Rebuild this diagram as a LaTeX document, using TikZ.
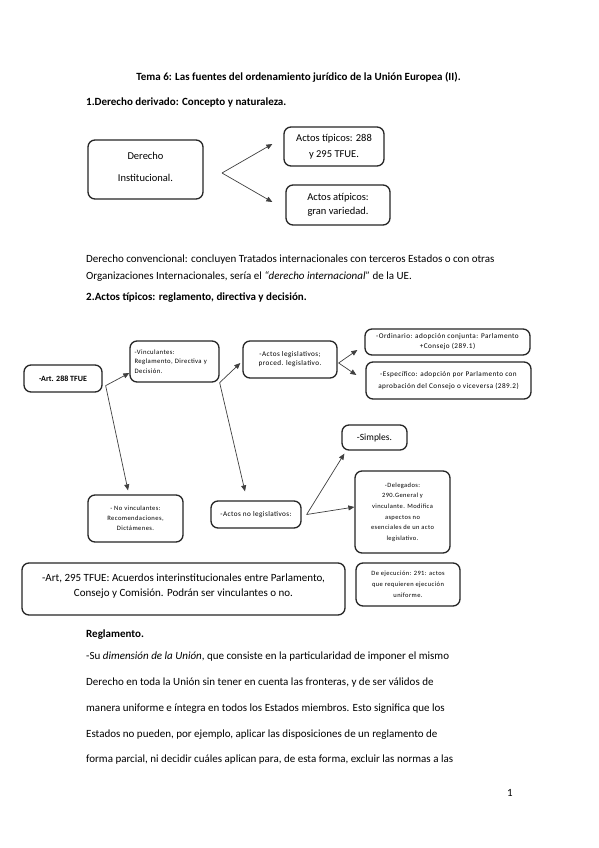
\documentclass[tikz,border=0pt]{standalone}
\usepackage{fontspec}
\setmainfont{Carlito}
\newfontfamily\tf[LetterSpace=6.0]{Carlito}
\usetikzlibrary{arrows.meta}
\newcommand{\fsz}[2]{\fontsize{#1}{#2}\selectfont}
\newcommand{\tfs}[2]{\tf\fontsize{#1}{#2}\selectfont}
\tikzset{
  box/.style={draw=black!85, line width=1.3pt, rounded corners=7pt, inner sep=0pt, align=center},
  conn/.style={draw=black!75, line width=0.7pt},
  arr/.style={conn, -{Triangle[length=6pt,width=5pt]}},
  txt/.style={anchor=base west, inner sep=0pt, font=\fsz{11}{13}},
  hd/.style={anchor=base west, inner sep=0pt, font=\fsz{11}{13}\bfseries},
}
\begin{document}
\begin{tikzpicture}[x=1pt,y=-1pt]
\useasboundingbox[fill=white] (0,0) rectangle (599,848);

% headings and text
\node[anchor=base, inner sep=0pt, font=\fsz{11}{13}\bfseries] (title) at (298.5,80.5) {Tema 6: Las fuentes del ordenamiento jurídico de la Unión Europea (II).};
\node[hd] (h1) at (86,105.5) {1.Derecho derivado: Concepto y naturaleza.};
\node[txt] (p1) at (86,262.5) {Derecho convencional: concluyen Tratados internacionales con terceros Estados o con otras};
\node[txt] (p2) at (86,279.5) {Organizaciones Internacionales, sería el \textit{“derecho internacional”} de la UE.};
\node[hd] (h2) at (86,300.5) {2.Actos típicos: reglamento, directiva y decisión.};
\node[hd] (h3) at (86,637.5) {Reglamento.};
\node[txt] (r1) at (86,659.5) {-Su \textit{dimensión de la Unión}, que consiste en la particularidad de imponer el mismo};
\node[txt] (r2) at (86,685.5) {Derecho en toda la Unión sin tener en cuenta las fronteras, y de ser válidos de};
\node[txt] (r3) at (86,711) {manera uniforme e íntegra en todos los Estados miembros. Esto significa que los};
\node[txt] (r4) at (86,737) {Estados no pueden, por ejemplo, aplicar las disposiciones de un reglamento de};
\node[txt] (r5) at (86,762.5) {forma parcial, ni decidir cuáles aplican para, de esta forma, excluir las normas a las};
\node[txt] (pg) at (507,796) {1};

% first diagram
\node[box, minimum width=115pt, minimum height=59pt] (der) at (145.5,169.5) {};
\node[inner sep=0pt, align=center, font=\fsz{10.5}{22}] (dert) at (145.5,167) {Derecho\\Institucional.};
\node[box, minimum width=100pt, minimum height=39pt, font=\fsz{10.5}{16}] (tip) at (334,146.5) {Actos típicos: 288\\y 295 TFUE.};
\node[box, minimum width=104pt, minimum height=40pt, font=\fsz{10.5}{14}] (atip) at (338,205) {Actos atípicos:\\gran variedad.};
\coordinate (f1) at (222,173);
\draw[arr] (f1) -- ([xshift=-11pt,yshift=2.5pt]tip.west);
\draw[arr] (f1) -- ([xshift=-13pt,yshift=3pt]atip.west);

% second diagram
\node[box, minimum width=78pt, minimum height=27pt, font=\fsz{8}{9}\bfseries] (art288) at (63,378.5) {-Art. 288 TFUE};
\node[box, minimum width=89pt, minimum height=41pt, font=\tfs{6.7}{9.5}, align=left, text width=80pt] (vinc) at (174.5,361.5) {-Vinculantes:\\Reglamento, Directiva y\\Decisión.};
\node[box, minimum width=94pt, minimum height=37pt, font=\tfs{7.2}{9}] (leg) at (290,359.5) {-Actos legislativos;\\proced. legislativo.};
\node[box, minimum width=165pt, minimum height=26pt, font=\tfs{7.2}{10}] (ord) at (447.5,342) {-Ordinario: adopción conjunta: Parlamento\\+Consejo (289.1)};
\node[box, minimum width=165pt, minimum height=37pt, font=\tfs{7.2}{11.5}] (esp) at (448.5,380.5) {-Específico: adopción por Parlamento con\\aprobación del Consejo o viceversa (289.2)};
\node[box, minimum width=65pt, minimum height=25pt, font=\fsz{9.5}{11}] (simp) at (374.5,437.5) {-Simples.};
\node[box, minimum width=95pt, minimum height=47pt, font=\tfs{6.6}{10}] (nov) at (135.5,518.5) {- No vinculantes:\\Recomendaciones,\\Dictámenes.};
\node[box, minimum width=90pt, minimum height=27pt, font=\tfs{7.2}{8}] (nol) at (256,514.5) {-Actos no legislativos:};
\node[box, minimum width=95pt, minimum height=82pt, font=\tfs{6.5}{10.6}] (del) at (402.5,512) {-Delegados:\\290.General y\\vinculante. Modifica\\aspectos no\\esenciales de un acto\\legislativo.};
\node[box, minimum width=323pt, minimum height=52pt] (art295) at (183.5,589) {};
\node[inner sep=0pt, align=center, font=\fsz{11}{15.5}] (art295t) at (183.5,586) {-Art, 295 TFUE: Acuerdos interinstitucionales entre Parlamento,\\Consejo y Comisión. Podrán ser vinculantes o no.};
\node[box, minimum width=104pt, minimum height=43pt, font=\tfs{6.5}{11}] (ejec) at (408,584.5) {De ejecución: 291: actos\\que requieren ejecución\\uniforme.};

\coordinate (s1) at ([xshift=3pt,yshift=7pt]art288.south east);
\draw[arr] (s1) -- ([yshift=-11.5pt]vinc.west);
\draw[arr] (s1) -- ([xshift=-7.5pt,yshift=4pt]nov.north);
\draw[arr] (vinc.south east) -- ([xshift=-2pt,yshift=-3.5pt]leg.west);
\draw[arr] (vinc.south east) -- ([xshift=-11pt,yshift=9pt]nol.north);
\coordinate (s3) at ([xshift=1pt,yshift=-3.5pt]leg.east);
\draw[arr] (s3) -- ([xshift=-7pt,yshift=-8pt]ord.west);
\draw[arr] (s3) -- ([xshift=-9pt,yshift=5.5pt]esp.west);
\coordinate (s4) at ([xshift=5pt]nol.east);
\draw[arr] (s4) -- ([xshift=3pt,yshift=-3pt]simp.south west);
\draw[arr] (s4) -- ([yshift=5pt]del.west);
\end{tikzpicture}
\end{document}
